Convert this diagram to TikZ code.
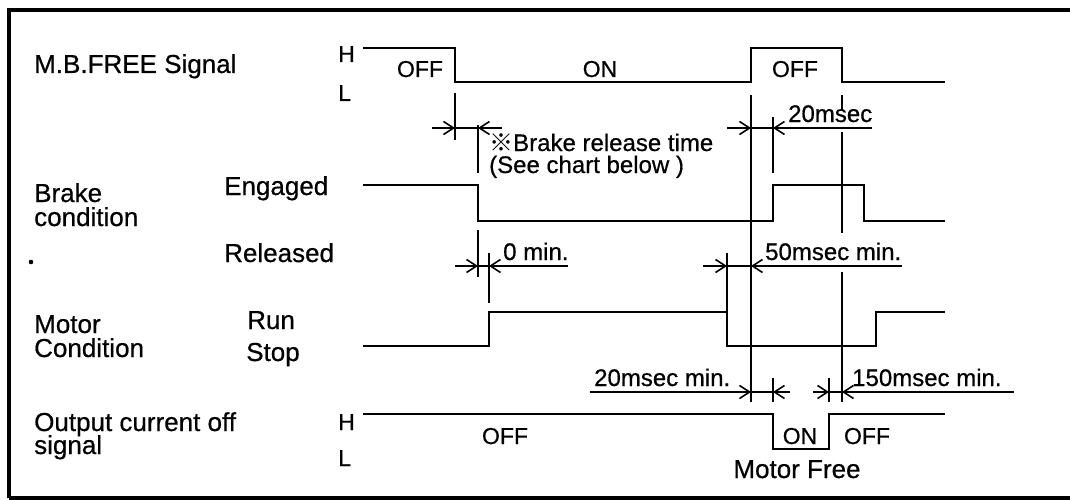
\documentclass[tikz,border=0pt]{standalone}
\usepackage{fontspec}
\setmainfont{Liberation Sans}[FakeBold=0.6]
\newfontfamily\cjkfont{Noto Sans CJK JP}
\usetikzlibrary{arrows.meta}

\tikzset{
  rowlabel/.style={font=\fontsize{26}{26}\selectfont, anchor=base west, inner sep=0pt},
  levellabel/.style={font=\fontsize{23}{23}\selectfont, anchor=base west, inner sep=0pt},
  statelabel/.style={font=\fontsize{23}{23}\selectfont, anchor=base, inner sep=0pt},
  timelabel/.style={font=\fontsize{24}{24}\selectfont, anchor=base west, inner sep=0pt},
  wave/.style={line width=2.2pt, line join=miter},
  extline/.style={line width=1.8pt},
  dimline/.style={line width=1.6pt},
  dimtip/.style={line width=1.6pt, -{Straight Barb[length=10pt,width=13pt]}},
  frame/.style={line width=3.5pt}
}

\begin{document}
\begin{tikzpicture}[x=1pt, y=-1pt]
  \useasboundingbox (0,0) rectangle (1070,500);
  \draw[frame] (9,498) -- (9,10) -- (1072,10);
  \draw[frame] (9,498) -- (1072,498);
  \fill (31,262) circle (2.3);

  \node[rowlabel] (mbfree)   at (34,73)  {M.B.FREE Signal};
  \node[rowlabel] (brake)    at (34,202) {Brake};
  \node[rowlabel] (brakec)   at (34,226) {condition};
  \node[rowlabel] (motor)    at (34,333) {Motor};
  \node[rowlabel] (motorc)   at (34,357) {Condition};
  \node[rowlabel] (output)   at (34,431) {Output current off};
  \node[rowlabel] (outputs)  at (34,454) {signal};
  \node[rowlabel] (engaged)  at (224,195) {Engaged};
  \node[rowlabel] (released) at (224,262) {Released};
  \node[rowlabel] (run)      at (247,329) {Run};
  \node[rowlabel] (stop)     at (246,361) {Stop};
  \node[levellabel] (mbH)    at (338,62)  {H};
  \node[levellabel] (mbL)    at (338,101) {L};
  \node[levellabel] (outH)   at (338,430) {H};
  \node[levellabel] (outL)   at (338,466) {L};

  \draw[wave] (363,48) -- (455,48) -- (455,82) -- (751,82) -- (751,48)
              -- (842,48) -- (842,82) -- (945,82);
  \draw[wave] (363,185) -- (478,185) -- (478,221) -- (773,221) -- (773,185)
              -- (864,185) -- (864,221) -- (945,221);
  \draw[wave] (363,346) -- (489,346) -- (489,312) -- (727,312) -- (727,346)
              -- (876,346) -- (876,312) -- (945,312);
  \draw[wave] (363,414) -- (773,414) -- (773,449) -- (829,449) -- (829,414)
              -- (945,414);

  \node[statelabel] (mboff1) at (420,77)  {OFF};
  \node[statelabel] (mbon)   at (600,77)  {ON};
  \node[statelabel] (mboff2) at (795,77)  {OFF};
  \node[statelabel] (outoff1) at (505,444) {OFF};
  \node[statelabel] (outon)   at (800,444) {ON};
  \node[statelabel] (outoff2) at (867,444) {OFF};
  \node[font=\fontsize{26}{26}\selectfont, anchor=base, inner sep=0pt] (free) at (797,478) {Motor Free};

  \draw[extline] (455,93) -- (455,140);
  \draw[extline] (478,125) -- (478,173);
  \draw[extline] (478,230) -- (478,277);
  \draw[extline] (489,253) -- (489,303);
  \draw[extline] (727,253) -- (727,312);
  \draw[extline] (751,95) -- (751,402);
  \draw[extline] (773,117) -- (773,173);
  \draw[extline] (773,378) -- (773,402);
  \draw[extline] (829,378) -- (829,402);
  \draw[extline] (842,95) -- (842,110);
  \draw[extline] (842,132) -- (842,233);
  \draw[extline] (842,272) -- (842,402);

  \draw[dimline] (432,128) -- (502,128);
  \draw[dimtip] (432,128) -- (455,128);
  \draw[dimtip] (502,128) -- (478,128);
  \node[timelabel] (reltime) at (489,151) {{\cjkfont ※}Brake release time};
  \node[timelabel] (relsee)  at (489,173) {(See chart below )};

  \draw[dimline] (727,128) -- (872,128);
  \draw[dimtip] (727,128) -- (751,128);
  \draw[dimtip] (797,128) -- (773,128);
  \node[timelabel] (t20) at (788,122) {20msec};

  \draw[dimline] (455,266) -- (568,266);
  \draw[dimtip] (455,266) -- (478,266);
  \draw[dimtip] (512,266) -- (489,266);
  \node[timelabel] (t0) at (503,260) {0 min.};

  \draw[dimline] (703,266) -- (902,266);
  \draw[dimtip] (703,266) -- (727,266);
  \draw[dimtip] (775,266) -- (751,266);
  \node[timelabel] (t50) at (765,260) {50msec min.};

  \draw[dimline] (590,392) -- (790,392);
  \draw[dimtip] (727,392) -- (751,392);
  \draw[dimtip] (790,392) -- (773,392);
  \node[timelabel] (t20min) at (594,386) {20msec min.};

  \draw[dimline] (813,392) -- (1014,392);
  \draw[dimtip] (813,392) -- (829,392);
  \draw[dimtip] (866,392) -- (842,392);
  \node[timelabel] (t150) at (852,386) {150msec min.};
\end{tikzpicture}
\end{document}
